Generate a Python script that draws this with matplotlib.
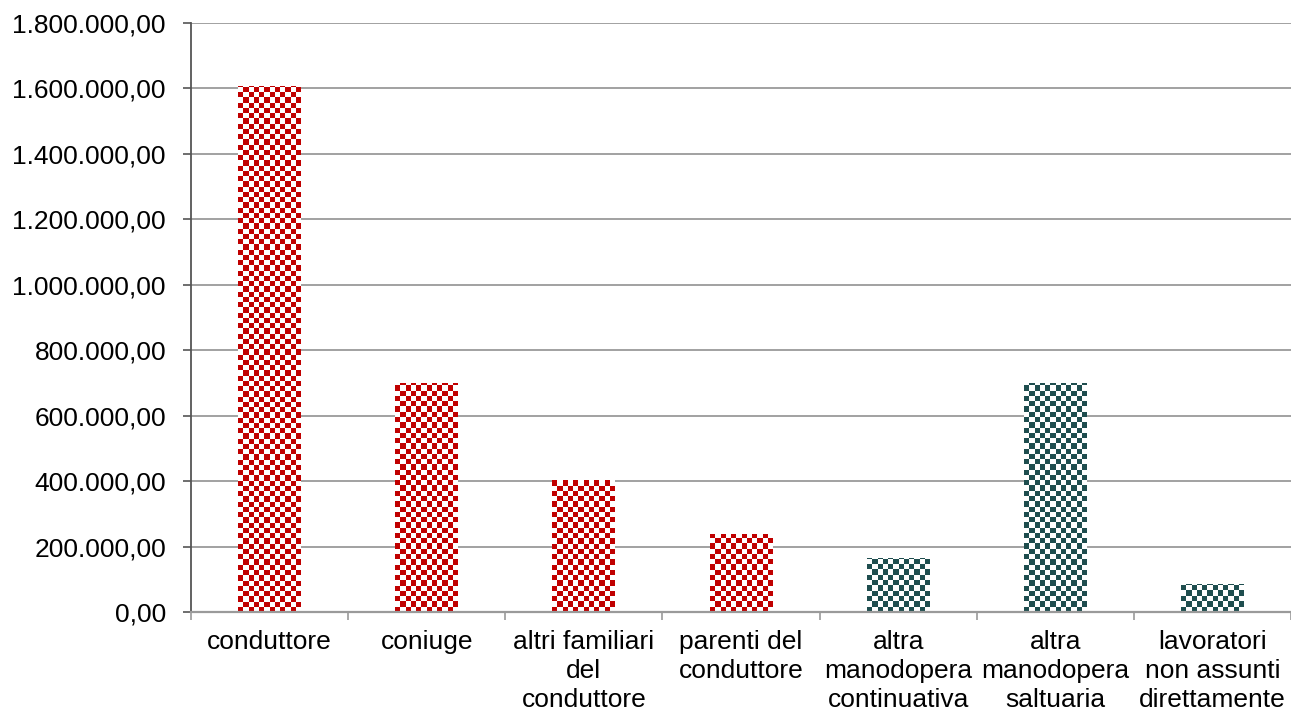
import numpy as np
import matplotlib
matplotlib.use("Agg")
import matplotlib.pyplot as plt
from matplotlib.ticker import FuncFormatter, FixedLocator

plt.rcParams['font.family'] = ['Liberation Sans', 'DejaVu Sans']

categories = [
    "conduttore",
    "coniuge",
    "altri familiari\ndel\nconduttore",
    "parenti del\nconduttore",
    "altra\nmanodopera\ncontinuativa",
    "altra\nmanodopera\nsaltuaria",
    "lavoratori\nnon assunti\ndirettamente",
]
values = [1607000, 700000, 402000, 237000, 166000, 700000, 86000]
bar_colors = ["#C00000", "#C00000", "#C00000", "#C00000",
              "#1F4E4F", "#1F4E4F", "#1F4E4F"]

y_ticks = np.arange(0, 1800001, 200000)

W, H, DPI = 1291, 714, 100
fig = plt.figure(figsize=(W / DPI, H / DPI), dpi=DPI)
ax = fig.add_axes([191 / W, 1 - 612 / H, 1100 / W, (612 - 23) / H])

x = np.arange(len(categories))
bar_w = 0.4
bars = ax.bar(x, values, width=bar_w, color="none", edgecolor="none", zorder=3)

ax.set_xlim(-0.5, len(categories) - 0.5)
ax.set_ylim(0, 1800000)

# checkerboard fill clipped to each bar
fig.canvas.draw()
cell_px = 5.25
px_per_x = ax.transData.transform((1, 0))[0] - ax.transData.transform((0, 0))[0]
px_per_y = ax.transData.transform((0, 1e6))[1] - ax.transData.transform((0, 0))[1]
cell_dx = cell_px / px_per_x
cell_dy = cell_px * 1e6 / px_per_y
for rect, col in zip(bars, bar_colors):
    x0 = rect.get_x()
    h = rect.get_height()
    ncols = int(np.ceil(bar_w / cell_dx))
    nrows = int(np.ceil(h / cell_dy))
    rgb = np.array(matplotlib.colors.to_rgb(col))
    img = np.ones((nrows, ncols, 3))
    ii, jj = np.indices((nrows, ncols))
    img[(ii + jj) % 2 == 0] = rgb
    im = ax.imshow(img, extent=(x0, x0 + ncols * cell_dx, 0, nrows * cell_dy),
                   origin="lower", interpolation="nearest", aspect="auto", zorder=3)
    im.set_clip_path(rect)

ax.set_xlim(-0.5, len(categories) - 0.5)
ax.set_ylim(0, 1800000)

def it_fmt(v, pos):
    s = f"{v:,.2f}"
    return s.replace(",", "X").replace(".", ",").replace("X", ".")

ax.yaxis.set_major_locator(FixedLocator(y_ticks))
ax.yaxis.set_major_formatter(FuncFormatter(it_fmt))
ax.yaxis.grid(True, color="#9A9A9A", linewidth=1.3, zorder=0)
ax.set_axisbelow(True)

# category separators as major ticks, labels on minor ticks
ax.xaxis.set_major_locator(FixedLocator(np.arange(-0.5, len(categories), 1.0)))
ax.xaxis.set_major_formatter(FuncFormatter(lambda v, p: ""))
ax.xaxis.set_minor_locator(FixedLocator(x))
ax.set_xticklabels(categories, minor=True)
ax.tick_params(axis="x", which="major", direction="out", length=6,
               color="#9A9A9A", width=1.2)
ax.tick_params(axis="x", which="minor", length=0, pad=13, labelsize=19,
               labelcolor="black")
ax.tick_params(axis="y", direction="out", length=6, color="#555555", width=1.2,
               pad=12, labelsize=19)
for lbl in ax.get_xticklabels(minor=True):
    lbl.set_linespacing(1.27)

for s in ("top", "right"):
    ax.spines[s].set_visible(False)
ax.spines["left"].set_color("#555555")
ax.spines["left"].set_linewidth(1.3)
ax.spines["bottom"].set_color("#9A9A9A")
ax.spines["bottom"].set_linewidth(1.6)
ax.spines["bottom"].set_zorder(4)

fig.savefig("out.png", dpi=DPI)
